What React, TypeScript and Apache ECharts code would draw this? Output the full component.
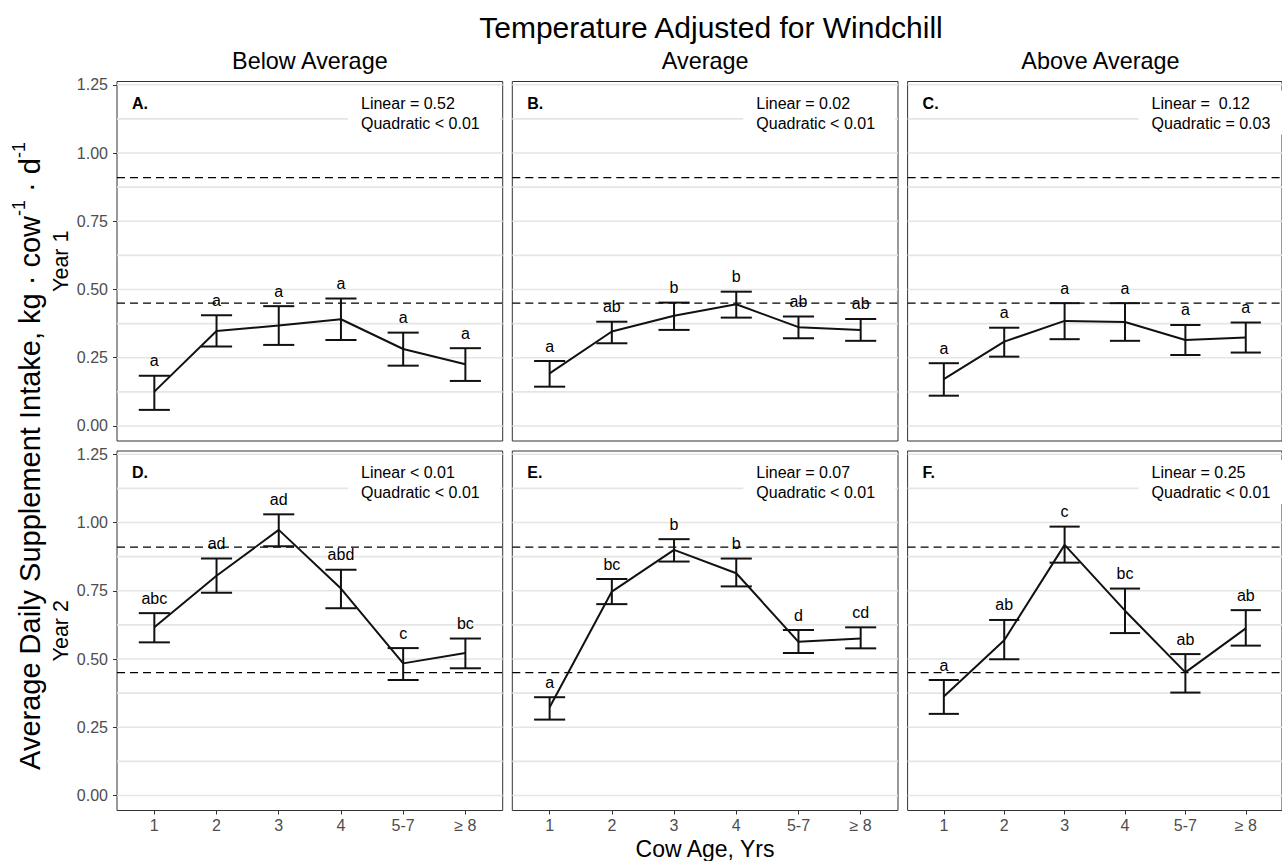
import React, { useEffect, useRef } from "react";
import * as echarts from "echarts";

// ---------- data ----------
const categories = ["1", "2", "3", "4", "5-7", "≥ 8"];
const columnTitles = ["Below Average", "Average", "Above Average"];
const rowTitles = ["Year 1", "Year 2"];
const panelTags = ["A.", "B.", "C.", "D.", "E.", "F."];
const linearTexts = ["Linear = 0.52", "Linear = 0.02", "Linear =  0.12", "Linear < 0.01", "Linear = 0.07", "Linear = 0.25"];
const quadraticTexts = ["Quadratic < 0.01", "Quadratic < 0.01", "Quadratic = 0.03", "Quadratic < 0.01", "Quadratic < 0.01", "Quadratic < 0.01"];

const meanA = [0.126, 0.348, 0.368, 0.391, 0.282, 0.226];
const lowA = [0.059, 0.291, 0.297, 0.315, 0.221, 0.165];
const highA = [0.184, 0.406, 0.439, 0.467, 0.342, 0.285];
const lettersA = ["a", "a", "a", "a", "a", "a"];

const meanB = [0.193, 0.346, 0.404, 0.446, 0.362, 0.352];
const lowB = [0.144, 0.303, 0.352, 0.397, 0.321, 0.312];
const highB = [0.238, 0.382, 0.452, 0.492, 0.401, 0.392];
const lettersB = ["a", "ab", "b", "b", "ab", "ab"];

const meanC = [0.172, 0.309, 0.385, 0.381, 0.315, 0.324];
const lowC = [0.111, 0.254, 0.318, 0.312, 0.260, 0.269];
const highC = [0.230, 0.360, 0.450, 0.450, 0.370, 0.379];
const lettersC = ["a", "a", "a", "a", "a", "a"];

const meanD = [0.616, 0.805, 0.973, 0.758, 0.484, 0.522];
const lowD = [0.561, 0.743, 0.913, 0.686, 0.423, 0.466];
const highD = [0.668, 0.868, 1.030, 0.827, 0.540, 0.575];
const lettersD = ["abc", "ad", "ad", "abd", "c", "bc"];

const meanE = [0.323, 0.747, 0.900, 0.814, 0.563, 0.575];
const lowE = [0.278, 0.701, 0.857, 0.766, 0.522, 0.539];
const highE = [0.360, 0.793, 0.939, 0.868, 0.606, 0.616];
const lettersE = ["a", "bc", "b", "b", "d", "cd"];

const meanF = [0.363, 0.569, 0.918, 0.677, 0.451, 0.612];
const lowF = [0.299, 0.499, 0.853, 0.595, 0.377, 0.549];
const highF = [0.423, 0.643, 0.985, 0.758, 0.518, 0.679];
const lettersF = ["a", "ab", "c", "bc", "ab", "ab"];

const yTickValues = [0, 0.25, 0.5, 0.75, 1.0, 1.25];
const gridValues = [0, 0.125, 0.25, 0.375, 0.5, 0.625, 0.75, 0.875, 1.0, 1.125, 1.25];
const referenceLines = [0.91, 0.45];
const xTickValues = [0, 1, 2, 3, 4, 5];

// ---------- layout / style ----------
const FONT = "'Liberation Sans', Arial, Helvetica, sans-serif";
const PANEL_LEFT = [117, 512.3, 907.6];
const PANEL_TOP = [81.5, 451];
const PANEL_W = 385.7;
const PANEL_H = 359.5;
const Y_MIN = -0.055;
const Y_MAX = 1.262;
const X_MIN = -0.6;
const X_MAX = 5.6;
const LABEL_OFFSET = 0.055;
const CAP_HALF = 0.25;

const panels = [
  { mean: meanA, low: lowA, high: highA, letters: lettersA },
  { mean: meanB, low: lowB, high: highB, letters: lettersB },
  { mean: meanC, low: lowC, high: highC, letters: lettersC },
  { mean: meanD, low: lowD, high: highD, letters: lettersD },
  { mean: meanE, low: lowE, high: highE, letters: lettersE },
  { mean: meanF, low: lowF, high: highF, letters: lettersF },
];

function buildOption() {
  const grid: any[] = [];
  const xAxis: any[] = [];
  const yAxis: any[] = [];
  const series: any[] = [];
  const graphic: any[] = [];

  panels.forEach((p, i) => {
    const r = Math.floor(i / 3);
    const c = i % 3;
    const left = PANEL_LEFT[c];
    const top = PANEL_TOP[r];
    grid.push({
      left, top, width: PANEL_W, height: PANEL_H,
      show: true, borderColor: "#333333", borderWidth: 1, backgroundColor: "transparent",
    });
    xAxis.push({
      type: "value", gridIndex: i, min: X_MIN, max: X_MAX, position: "bottom",
      axisLine: { show: false, onZero: false }, splitLine: { show: false },
      axisTick: { show: r === 1, length: 4, lineStyle: { color: "#333333", width: 1 }, customValues: xTickValues },
      axisLabel: {
        show: r === 1, customValues: xTickValues, margin: 7,
        formatter: (v: number) => categories[Math.round(v)] ?? "",
        color: "#4d4d4d", fontSize: 16, fontFamily: FONT,
      },
    });
    yAxis.push({
      type: "value", gridIndex: i, min: Y_MIN, max: Y_MAX, position: "left",
      axisLine: { show: false, onZero: false }, splitLine: { show: false },
      axisTick: { show: c === 0, length: 4, lineStyle: { color: "#333333", width: 1 }, customValues: yTickValues },
      axisLabel: {
        show: c === 0, customValues: yTickValues, margin: 9,
        formatter: (v: number) => v.toFixed(2),
        color: "#4d4d4d", fontSize: 16, fontFamily: FONT,
      },
    });

    // horizontal grid lines
    series.push({
      type: "custom", xAxisIndex: i, yAxisIndex: i, z: 1, silent: true,
      data: gridValues.map((v) => [0, v]),
      renderItem: (params: any, api: any) => {
        const y = api.coord([0, api.value(1)])[1];
        const cs = params.coordSys;
        return {
          type: "line",
          shape: { x1: cs.x, y1: y, x2: cs.x + cs.width, y2: y },
          style: { stroke: "#e5e5e5", lineWidth: 1.6 },
        };
      },
    });

    // dashed reference lines
    series.push({
      type: "custom", xAxisIndex: i, yAxisIndex: i, z: 3, silent: true,
      data: referenceLines.map((v) => [0, v]),
      renderItem: (params: any, api: any) => {
        const y = api.coord([0, api.value(1)])[1];
        const cs = params.coordSys;
        return {
          type: "line",
          shape: { x1: cs.x, y1: y, x2: cs.x + cs.width, y2: y },
          style: { stroke: "#000000", lineWidth: 1.1, lineDash: [8, 5] },
        };
      },
    });

    // mean line
    series.push({
      type: "line", xAxisIndex: i, yAxisIndex: i, z: 4, silent: true,
      data: p.mean.map((m, j) => [j, m]),
      symbol: "none",
      lineStyle: { color: "#111111", width: 2 },
    });

    // error bars + letters
    series.push({
      type: "custom", xAxisIndex: i, yAxisIndex: i, z: 5, silent: true,
      data: p.low.map((lo, j) => [j, lo, p.high[j]]),
      renderItem: (params: any, api: any) => {
        const x = api.value(0);
        const lo = api.value(1);
        const hi = api.value(2);
        const pHi = api.coord([x, hi]);
        const pLo = api.coord([x, lo]);
        const half = api.size([CAP_HALF, 0])[0];
        const pTxt = api.coord([x, hi + LABEL_OFFSET]);
        const st = { stroke: "#111111", lineWidth: 2 };
        return {
          type: "group",
          children: [
            { type: "line", shape: { x1: pHi[0], y1: pHi[1], x2: pLo[0], y2: pLo[1] }, style: st },
            { type: "line", shape: { x1: pHi[0] - half, y1: pHi[1], x2: pHi[0] + half, y2: pHi[1] }, style: st },
            { type: "line", shape: { x1: pLo[0] - half, y1: pLo[1], x2: pLo[0] + half, y2: pLo[1] }, style: st },
            {
              type: "text", x: pTxt[0], y: pTxt[1],
              style: {
                text: p.letters[params.dataIndex], fill: "#000000",
                fontSize: 16, fontFamily: FONT, align: "center", verticalAlign: "middle",
              },
            },
          ],
        };
      },
    });

    // annotation box & texts
    graphic.push({
      type: "rect", z: 1.5, silent: true,
      shape: { x: left + 231, y: top + 9, width: 152, height: 44 },
      style: { fill: "#ffffff" },
    });
    graphic.push({
      type: "text", z: 10, silent: true, x: left + 15, y: top + 21.5,
      style: { text: panelTags[i], fill: "#000", font: `bold 16px ${FONT}`, align: "left", verticalAlign: "middle" },
    });
    graphic.push({
      type: "text", z: 10, silent: true, x: left + 244, y: top + 21.6,
      style: { text: linearTexts[i], fill: "#000", font: `16px ${FONT}`, align: "left", verticalAlign: "middle" },
    });
    graphic.push({
      type: "text", z: 10, silent: true, x: left + 244, y: top + 41.6,
      style: { text: quadraticTexts[i], fill: "#000", font: `16px ${FONT}`, align: "left", verticalAlign: "middle" },
    });
  });

  // column strip titles
  columnTitles.forEach((t, c) => {
    graphic.push({
      type: "text", z: 10, silent: true, x: PANEL_LEFT[c] + PANEL_W / 2, y: 61,
      style: { text: t, fill: "#000", font: `23.4px ${FONT}`, align: "center", verticalAlign: "middle" },
    });
  });
  // row titles
  rowTitles.forEach((t, r) => {
    graphic.push({
      type: "text", z: 10, silent: true, x: 61, y: PANEL_TOP[r] + PANEL_H / 2, rotation: Math.PI / 2,
      style: { text: t, fill: "#000", font: `21.5px ${FONT}`, align: "center", verticalAlign: "middle" },
    });
  });
  // main title
  graphic.push({
    type: "text", z: 10, silent: true, x: 711, y: 27,
    style: { text: "Temperature Adjusted for Windchill", fill: "#000", font: `30px ${FONT}`, align: "center", verticalAlign: "middle" },
  });
  // x axis title
  graphic.push({
    type: "text", z: 10, silent: true, x: 705, y: 849,
    style: { text: "Cow Age, Yrs", fill: "#000", font: `23px ${FONT}`, align: "center", verticalAlign: "middle" },
  });
  // y axis title
  graphic.push({
    type: "text", z: 10, silent: true, x: 27, y: 456, rotation: Math.PI / 2,
    style: {
      text: "{a|Average Daily Supplement Intake, kg · cow}{s|-1}{a| · d}{s|-1}",
      align: "center", verticalAlign: "middle",
      rich: {
        a: { fontSize: 29, fontFamily: FONT, fill: "#000", lineHeight: 34, verticalAlign: "bottom" },
        s: { fontSize: 18, fontFamily: FONT, fill: "#000", lineHeight: 34, verticalAlign: "top" },
      },
    },
  });

  return { animation: false, backgroundColor: "#ffffff", grid, xAxis, yAxis, series, graphic };
}

export default function App() {
  const ref = useRef<HTMLDivElement>(null);
  useEffect(() => {
    if (!ref.current) return;
    const chart = echarts.init(ref.current, undefined, { renderer: "svg" });
    chart.setOption(buildOption());
    return () => chart.dispose();
  }, []);
  return (
    <div
      ref={ref}
      style={{ position: "absolute", left: 0, top: 0, width: 1282, height: 861, background: "#fff" }}
    />
  );
}
